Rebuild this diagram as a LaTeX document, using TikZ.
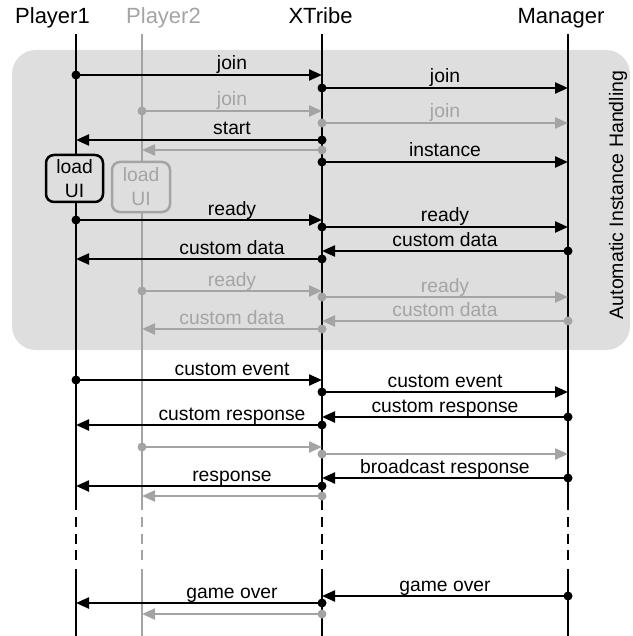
\documentclass[tikz,border=0pt]{standalone}
\usepackage{fontspec}
\setmainfont{Liberation Sans}
\usetikzlibrary{arrows.meta}
\definecolor{grayc}{HTML}{A4A4A4}
\definecolor{boxc}{HTML}{DEDEDE}
\newcommand\msg[7]{%
  \coordinate (#1a) at (#2,#4);
  \coordinate (#1b) at (#3,#4);
  \draw[msgline,#7] (#1a) -- (#1b);
  \fill[#7] (#1a) circle[radius=4.5];
  \node[lbl,#7] (#1t) at (#5,{#4-5}) {#6};
}
\begin{document}
\begin{tikzpicture}[x=1pt,y=-1pt,
  lbl/.style={anchor=base,inner sep=0pt,font=\fontsize{19.3}{23}\selectfont},
  ttl/.style={anchor=base,inner sep=0pt,font=\fontsize{22}{26}\selectfont},
  msgline/.style={line width=2.3pt,-{Triangle[length=13pt,width=11pt]}},
  life/.style={line width=2.7pt},
  dlife/.style={line width=2.7pt,dash pattern=on 10pt off 6.5pt},
  bk/.style={color=black},
  gr/.style={color=grayc},
  uibox/.style={line width=2.5pt,rounded corners=8pt,fill=boxc},
  uitxt/.style={align=center,inner sep=0pt,font=\fontsize{19.3}{24}\selectfont}]
\useasboundingbox (0,0) rectangle (632,636);
% background region
\fill[boxc,rounded corners=24pt] (12,50) rectangle (630,350);
\node[rotate=90,inner sep=0pt,font=\fontsize{19.5}{23}\selectfont] (auto) at (618,195) {Automatic Instance Handling};
% titles
\node[ttl] (tP1) at (52.5,24) {Player1};
\node[ttl,gr] (tP2) at (163.5,24) {Player2};
\node[ttl] (tX) at (320.5,24) {XTribe};
\node[ttl] (tM) at (561,24) {Manager};
% load UI boxes
\draw[bk,uibox] (46,155) rectangle (103,202);
\node[uitxt] (ui1) at (74.5,178.5) {load\\UI};
\draw[gr,uibox] (112,162) rectangle (170,212);
\node[uitxt,gr] (ui2) at (141,187) {load\\UI};
% lifelines
\coordinate (L0) at (76,34); \coordinate (L1) at (76,155); \coordinate (L2) at (76,202);
\coordinate (P0) at (142,34); \coordinate (P1) at (142,162); \coordinate (P2) at (142,212);
\coordinate (X0) at (322,34); \coordinate (M0) at (568,34);
\foreach \n/\x/\c in {L/76/bk,P/142/gr,X/322/bk,M/568/bk}{
  \coordinate (\n d0) at (\x,510);
  \coordinate (\n d1) at (\x,517);
  \coordinate (\n d2) at (\x,562);
  \coordinate (\n d3) at (\x,569);
  \coordinate (\n e) at (\x,636);
  \draw[dlife,\c] (\n d1) -- (\n d2);
  \draw[life,\c] (\n d3) -- (\n e);
}
\draw[life,bk] (L0) -- (L1);
\draw[life,bk] (L2) -- (Ld0);
\draw[life,gr] (P0) -- (P1);
\draw[life,gr] (P2) -- (Pd0);
\draw[life,bk] (X0) -- (Xd0);
\draw[life,bk] (M0) -- (Md0);
% messages
\msg{m1}{76}{322}{75}{232}{join}{bk}
\msg{m2}{322}{568}{88}{445}{join}{bk}
\msg{m3}{142}{322}{111}{232}{join}{gr}
\msg{m4}{322}{568}{123}{445}{join}{gr}
\msg{m5}{322}{76}{140}{232}{start}{bk}
\msg{m6}{322}{142}{150}{232}{}{gr}
\msg{m7}{322}{568}{162}{445}{instance}{bk}
\msg{m8}{76}{322}{220}{232}{ready}{bk}
\msg{m9}{322}{568}{227}{445}{ready}{bk}
\msg{m10}{568}{322}{251}{445}{custom data}{bk}
\msg{m11}{322}{76}{259}{232}{custom data}{bk}
\msg{m12}{142}{322}{291}{232}{ready}{gr}
\msg{m13}{322}{568}{297}{445}{ready}{gr}
\msg{m14}{568}{322}{321}{445}{custom data}{gr}
\msg{m15}{322}{142}{329}{232}{custom data}{gr}
\msg{m16}{76}{322}{380}{232}{custom event}{bk}
\msg{m17}{322}{568}{392}{445}{custom event}{bk}
\msg{m18}{568}{322}{417}{445}{custom response}{bk}
\msg{m19}{322}{76}{425}{232}{custom response}{bk}
\msg{m20}{142}{322}{447}{232}{}{gr}
\msg{m21}{322}{568}{454}{445}{}{gr}
\msg{m22}{568}{322}{478}{445}{broadcast response}{bk}
\msg{m23}{322}{76}{486}{232}{response}{bk}
\msg{m24}{322}{142}{496}{232}{}{gr}
\msg{m25}{568}{322}{596}{445}{game over}{bk}
\msg{m26}{322}{76}{603}{232}{game over}{bk}
\msg{m27}{322}{142}{614}{232}{}{gr}
\end{tikzpicture}
\end{document}
